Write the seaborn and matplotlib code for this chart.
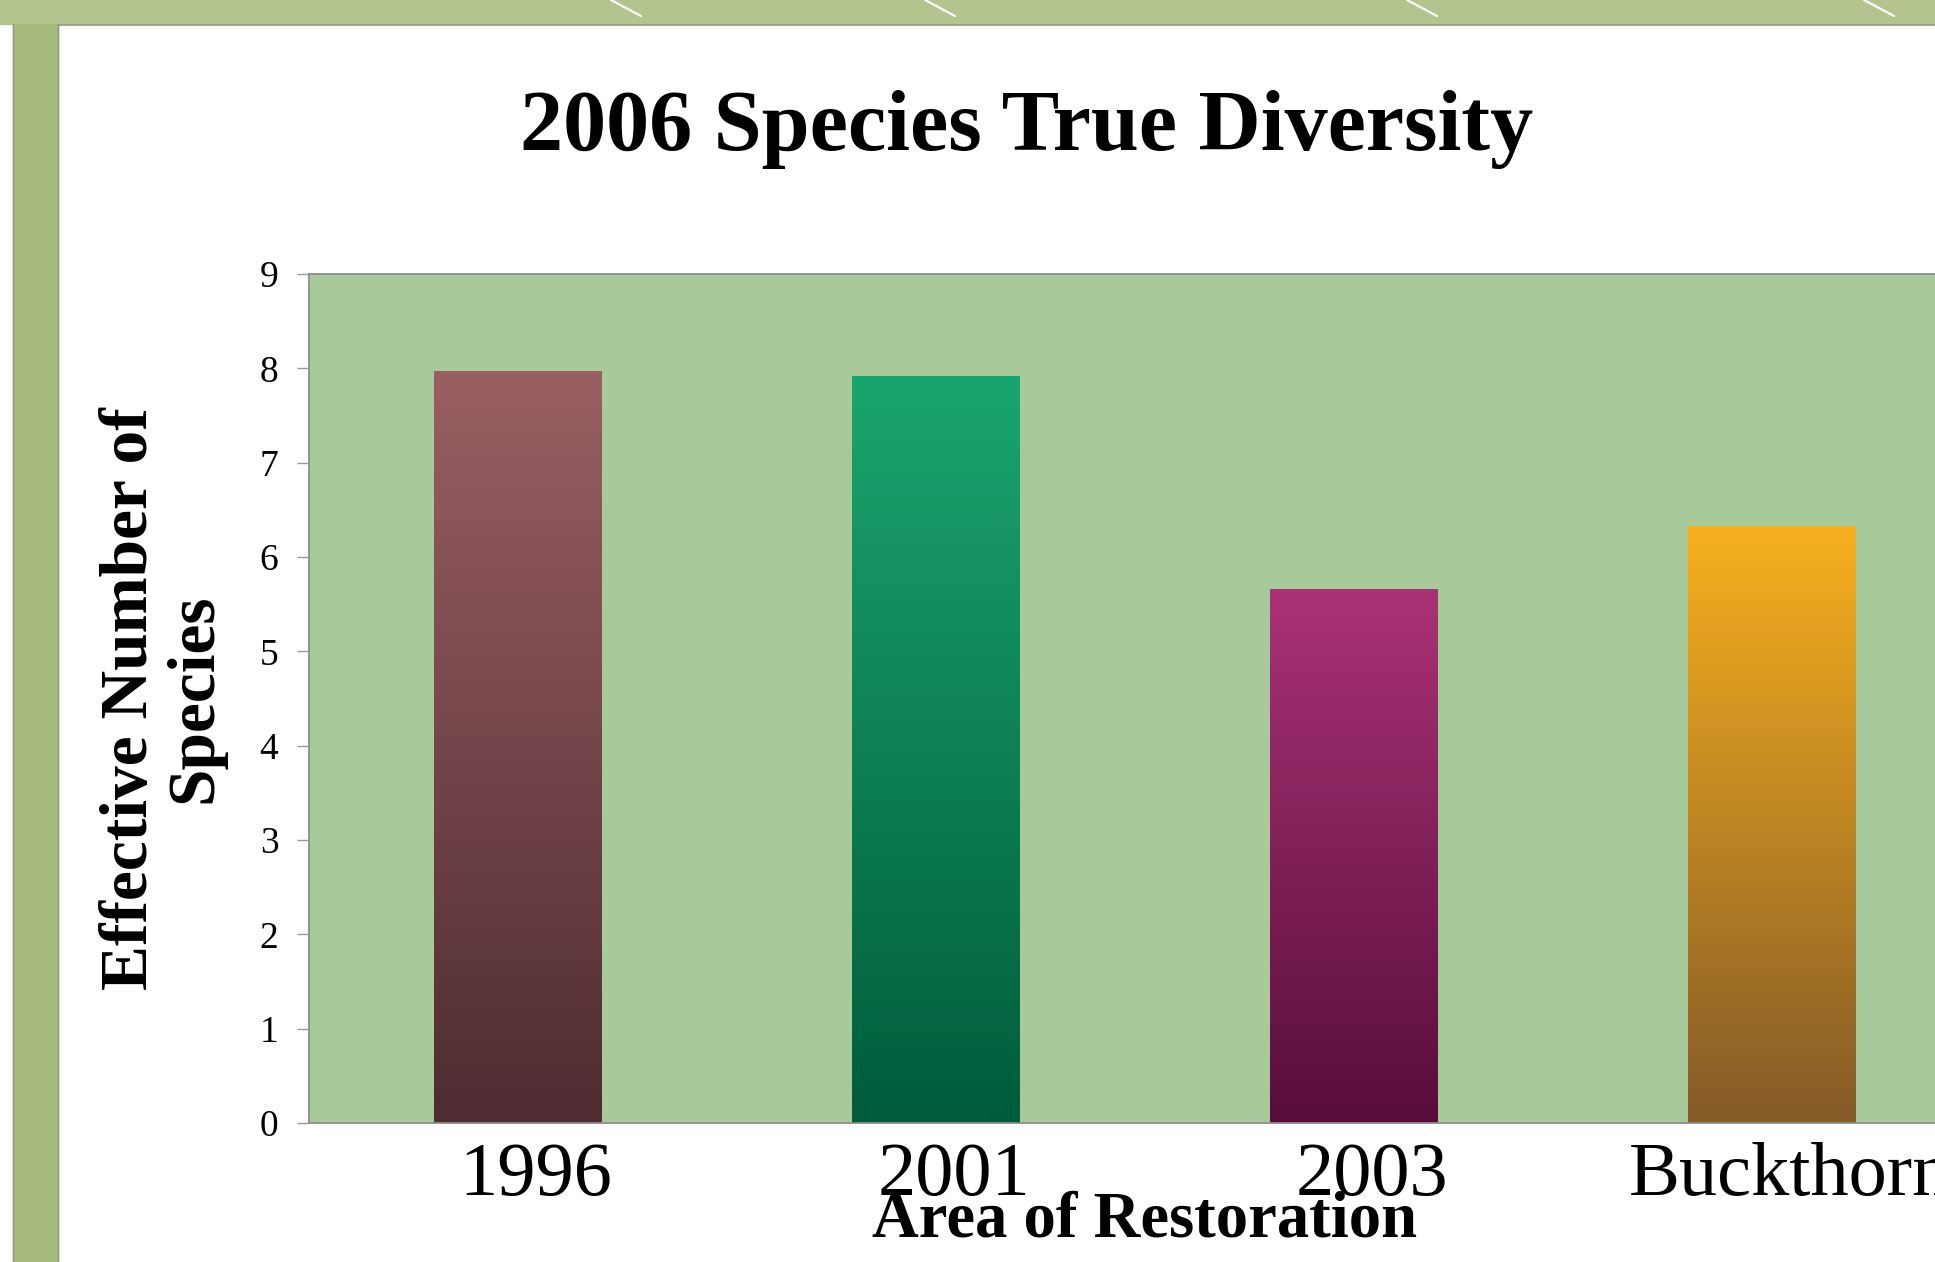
import numpy as np
import pandas as pd
import matplotlib
matplotlib.use("Agg")
import matplotlib.pyplot as plt
import matplotlib.transforms as mtransforms
import seaborn as sns
from matplotlib.colors import LinearSegmentedColormap
from matplotlib.patches import Rectangle
from matplotlib.lines import Line2D

# chart values
areas = ["1996", "2001", "2003", "Buckthorn"]
true_diversity = [7.97, 7.92, 5.66, 6.33]
y_ticks = list(range(0, 10))

# bar gradient colours (top -> bottom)
top_colors = ["#9a5f63", "#1ba56e", "#a93276", "#f7b01e"]
bottom_colors = ["#4e2c31", "#005c3b", "#580d3b", "#845a28"]

PLOT_BG = "#a8c999"
FRAME_GREEN = "#a4b97b"
BAND_GREEN = "#b2c58e"


def make_chart():
    sns.set_style("white")
    plt.rcParams["font.family"] = ["Liberation Serif", "DejaVu Serif"]
    plt.rcParams["text.color"] = "black"
    plt.rcParams["axes.labelcolor"] = "black"

    fig = plt.figure(figsize=(19.35, 12.62), dpi=100)
    fig.patch.set_facecolor("white")

    # slide frame: top band and left strip
    fig.add_artist(Rectangle((0, 1 - 24 / 1262), 1, 24 / 1262,
                             transform=fig.transFigure, color=BAND_GREEN, zorder=0))
    fig.add_artist(Line2D([58 / 1935, 1], [1 - 25 / 1262] * 2, transform=fig.transFigure,
                          color="#9a9a8a", lw=1.2, zorder=1))
    fig.add_artist(Rectangle((13 / 1935, 0), 45 / 1935, 1 - 24 / 1262,
                             transform=fig.transFigure, color=FRAME_GREEN, zorder=0))
    for xe in (13, 58):
        fig.add_artist(Line2D([xe / 1935] * 2, [0, 1 - 24 / 1262], transform=fig.transFigure,
                              color="#8f9a80", lw=1.0, zorder=1))
    # faint white diagonal strokes on the top band
    for x0 in (611, 925, 1407, 1864):
        fig.add_artist(Line2D([x0 / 1935, (x0 + 30) / 1935], [1, 1 - 16 / 1262],
                              transform=fig.transFigure, color="white", lw=1.6, zorder=1))

    # plot area runs past the right edge of the slide crop
    ax = fig.add_axes([309 / 1935, 0.1101, 1672 / 1935, 0.6728])
    ax.set_facecolor(PLOT_BG)

    df = pd.DataFrame({"area": areas, "diversity": true_diversity})
    sns.barplot(data=df, x="area", y="diversity", hue="area", palette=top_colors,
                width=0.4, legend=False, ax=ax, saturation=1, linewidth=0)

    # gradient fill clipped to each bar
    for patch, c_top, c_bot in zip(ax.patches, top_colors, bottom_colors):
        patch.set_edgecolor("none")
        x0, y0 = patch.get_x(), patch.get_y()
        w, h = patch.get_width(), patch.get_height()
        cmap = LinearSegmentedColormap.from_list("g", [c_bot, c_top])
        grad = np.linspace(1, 0, 256).reshape(-1, 1)
        im = ax.imshow(grad, cmap=cmap, extent=(x0, x0 + w, y0, y0 + h),
                       aspect="auto", zorder=patch.get_zorder() + 0.1, vmin=0, vmax=1)
        im.set_clip_path(patch)

    ax.set_xlim(-0.5, len(areas) - 0.5)
    ax.set_ylim(0, 9)
    ax.set_yticks(y_ticks)

    for side in ("left", "bottom", "top"):
        ax.spines[side].set_color("#8c8c8c")
        ax.spines[side].set_linewidth(1.3)
    ax.spines["right"].set_visible(False)

    ax.tick_params(axis="y", direction="out", length=9, width=1.0, color="#9a9a9a",
                   labelsize=27, pad=13, left=True, labelcolor="black")
    ax.tick_params(axis="x", length=0, labelsize=55, pad=14, labelcolor="black")
    # the slide draws the category labels a little right of the bar centres
    shift = mtransforms.ScaledTranslation(18 / 100, 0, fig.dpi_scale_trans)
    for lab in ax.get_xticklabels():
        lab.set_transform(lab.get_transform() + shift)

    ax.set_xlabel("Area of Restoration", fontsize=46.5, fontweight="bold")
    ax.xaxis.set_label_coords(0.5, -0.079)
    ax.set_ylabel("Effective Number of\nSpecies", fontsize=48.5, fontweight="bold",
                  linespacing=1.08)
    ax.yaxis.set_label_coords(-0.050, 0.5)

    fig.text(1027 / 1935, 1 - 150 / 1262, "2006 Species True Diversity",
             ha="center", va="baseline", fontsize=62, fontweight="bold")

    fig.savefig("out.png", dpi=100)


if __name__ == "__main__":
    make_chart()
